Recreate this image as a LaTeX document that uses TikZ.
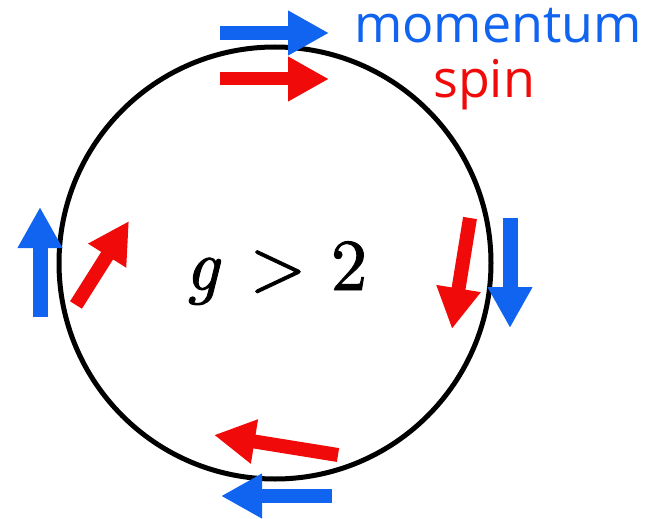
\documentclass[tikz,border=0pt]{standalone}
\usepackage{fontspec}
\newfontfamily\labelfont{Open Sans}
\newfontfamily\mathish{lmroman10-regular.otf}[ItalicFont=lmroman10-italic.otf, FakeBold=1.3]
\usetikzlibrary{arrows.meta}
\definecolor{mblue}{RGB}{16,100,240}
\definecolor{sred}{RGB}{240,10,10}
\tikzset{
  fatarrow/.style={line width=14pt, -{Triangle[length=41pt,width=42pt]}},
  lbl/.style={inner sep=0pt, anchor=base west, font=\labelfont\fontsize{52}{60}\selectfont},
  mathlbl/.style={inner sep=0pt, anchor=base, font=\mathish\fontsize{73}{80}\selectfont}
}
\begin{document}
\begin{tikzpicture}[x=1pt,y=-1pt]
\useasboundingbox (0,0) rectangle (656,519);
% orbit
\node[draw, line width=5pt, circle, minimum size=432pt, inner sep=0pt] (orbit) at (275,263) {};
% arrows
\coordinate (tbS) at (220,33);  \coordinate (tbE) at (329,33);
\coordinate (trS) at (220,79);  \coordinate (trE) at (329,79);
\coordinate (lbS) at (40,317);  \coordinate (lbE) at (40,207);
\coordinate (lrS) at (76,305);  \coordinate (lrE) at (129,221);
\coordinate (rrS) at (470,218); \coordinate (rrE) at (452,329);
\coordinate (rbS) at (510,218); \coordinate (rbE) at (510,328);
\coordinate (brS) at (338,455); \coordinate (brE) at (214,435);
\coordinate (bbS) at (332,496); \coordinate (bbE) at (221,496);
\draw[fatarrow, mblue] (tbS) -- (tbE);
\draw[fatarrow, sred, line width=13pt] (trS) -- (trE);
\draw[fatarrow, mblue, line width=15pt] (lbS) -- (lbE);
\draw[fatarrow, sred] (lrS) -- (lrE);
\draw[fatarrow, sred] (rrS) -- (rrE);
\draw[fatarrow, mblue, line width=15pt] (rbS) -- (rbE);
\draw[fatarrow, sred] (brS) -- (brE);
\draw[fatarrow, mblue] (bbS) -- (bbE);
% labels
\node[lbl, text=mblue] (mom) at (354,43) {momentum};
\node[lbl, text=sred] (spin) at (433,97) {spin};
\node[mathlbl] (g) at (202,290) {\itshape g};
\node[mathlbl] (gt) at (278,290) {>};
\node[mathlbl] (two) at (349,290) {2};
\end{tikzpicture}
\end{document}
